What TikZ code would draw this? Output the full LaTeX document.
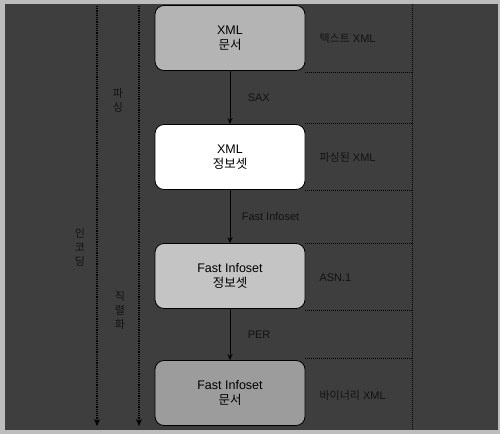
\documentclass[tikz,border=0pt]{standalone}
\usepackage{fontspec}
\setmainfont{Liberation Sans}
\newfontfamily\kr{Noto Sans CJK KR}
\usetikzlibrary{arrows.meta}
\definecolor{bgdark}{HTML}{3E3E3E}
\definecolor{frame}{HTML}{BDBDBD}
\definecolor{boxA}{HTML}{B4B4B4}
\definecolor{boxC}{HTML}{C4C4C4}
\definecolor{boxD}{HTML}{9C9C9C}
\definecolor{lbl}{HTML}{121212}
\tikzset{
  layerbox/.style={draw=black, line width=0.8pt, rounded corners=9pt, minimum width=150pt, minimum height=65pt, align=center, font=\fontsize{12.5}{15}\selectfont, text=black},
  flow/.style={draw=black, line width=0.9pt, -{Stealth[length=6pt,width=5pt]}},
  sep/.style={draw=black, line width=1pt, densely dotted},
  side/.style={draw=black, line width=1.2pt, densely dotted, -{Stealth[length=7pt,width=6pt]}},
  rlabel/.style={font=\fontsize{11}{13}\selectfont, text=lbl, anchor=west},
  vlabel/.style={font=\kr\fontsize{11}{14}\selectfont, text=lbl, align=center}
}
\begin{document}
\begin{tikzpicture}[x=1pt,y=-1pt]
\useasboundingbox (0,0) rectangle (500,434);
\fill[frame] (0,0) rectangle (500,434);
\fill[bgdark] (5,4) rectangle (498,430);
% boxes
\node[layerbox, fill=boxA] (doc) at (230,38) {XML\\{\kr 문서}};
\node[layerbox, fill=white] (info) at (230,157) {XML\\{\kr 정보셋}};
\node[layerbox, fill=boxC] (fiinfo) at (230,276) {Fast Infoset\\{\kr 정보셋}};
\node[layerbox, fill=boxD] (fidoc) at (230,393) {Fast Infoset\\{\kr 문서}};
% flow arrows
\draw[flow] (doc) -- node[rlabel, pos=0.5, xshift=14pt] (lsax) {SAX} (info);
\draw[flow] (info) -- node[rlabel, pos=0.5, xshift=8pt] (lfi) {Fast Infoset} (fiinfo);
\draw[flow] (fiinfo) -- node[rlabel, pos=0.5, xshift=14pt] (lper) {PER} (fidoc);
% right separators
\coordinate (r0) at (412,4);
\coordinate (r1) at (412,430);
\draw[sep] (r0) -- (r1);
\foreach \yy/\nm in {72/a,123/b,190/c,243/d,310/e,358/f}{
  \coordinate (sl\nm) at (305,\yy);
  \coordinate (sr\nm) at (412,\yy);
  \draw[sep] (sl\nm) -- (sr\nm);
}
\node[rlabel] (t1) at (316,38) {{\kr 텍스트} XML};
\node[rlabel] (t2) at (316,157) {{\kr 파싱된} XML};
\node[rlabel] (t3) at (316,278) {ASN.1};
\node[rlabel] (t4) at (316,395) {{\kr 바이너리} XML};
% left side arrows
\coordinate (o1) at (97,6);
\coordinate (o2) at (97,426);
\coordinate (i1) at (139,6);
\coordinate (i2) at (139,426);
\draw[side] (o1) -- (o2);
\draw[side] (i1) -- (i2);
\node[vlabel] (v1) at (118,100) {파\\싱};
\node[vlabel] (v2) at (80,247) {인\\코\\딩};
\node[vlabel] (v3) at (120,310) {직\\렬\\화};
\end{tikzpicture}
\end{document}
